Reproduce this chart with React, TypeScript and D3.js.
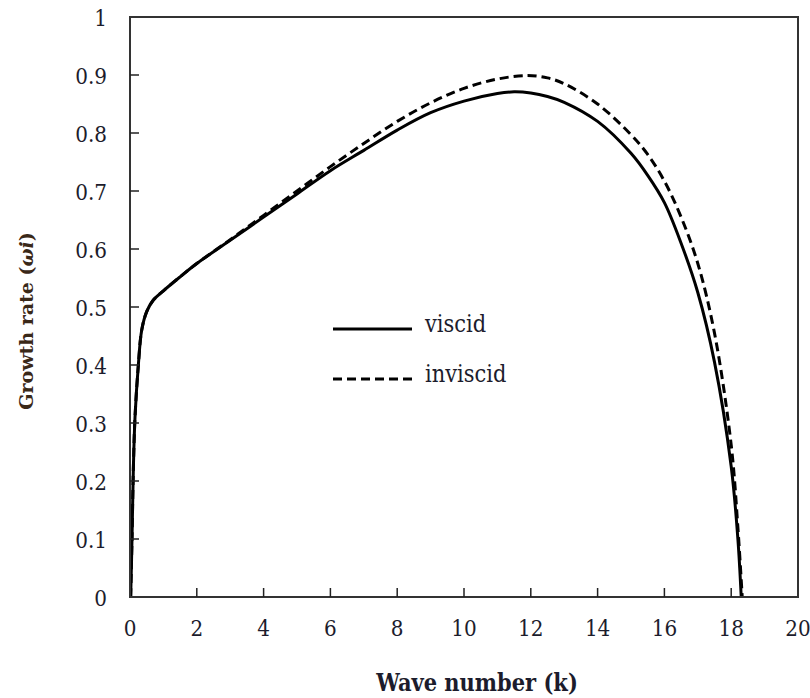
import React from 'react';
import * as d3 from 'd3';

// wave number (k) and growth rate values
const viscidK = [0.02, 0.06, 0.1, 0.15, 0.25, 0.35, 0.5, 0.7, 1, 1.5, 2, 3, 4, 5, 6, 7, 8, 9, 10, 11, 11.5, 12, 12.5, 13, 14, 15, 15.5, 16, 16.5, 17, 17.5, 18, 18.2, 18.3];
const viscidW = [0, 0.1, 0.22, 0.31, 0.4, 0.46, 0.492, 0.512, 0.528, 0.552, 0.575, 0.615, 0.655, 0.695, 0.735, 0.77, 0.805, 0.835, 0.855, 0.868, 0.871, 0.869, 0.863, 0.853, 0.82, 0.765, 0.727, 0.68, 0.61, 0.525, 0.405, 0.225, 0.1, 0];

const inviscidK = [0.02, 0.06, 0.1, 0.15, 0.25, 0.35, 0.5, 0.7, 1, 1.5, 2, 3, 4, 5, 6, 7, 8, 9, 10, 11, 11.9, 12.5, 13, 14, 15, 15.5, 16, 16.5, 17, 17.5, 18, 18.2, 18.33];
const inviscidW = [0, 0.1, 0.22, 0.31, 0.4, 0.46, 0.492, 0.512, 0.528, 0.552, 0.575, 0.616, 0.658, 0.7, 0.742, 0.782, 0.82, 0.852, 0.877, 0.893, 0.899, 0.895, 0.885, 0.85, 0.797, 0.763, 0.717, 0.655, 0.575, 0.455, 0.262, 0.12, 0];

const xTicks = [0, 2, 4, 6, 8, 10, 12, 14, 16, 18, 20];
const yTicks = [0, 0.1, 0.2, 0.3, 0.4, 0.5, 0.6, 0.7, 0.8, 0.9, 1];

const series = [
  { name: 'viscid', k: viscidK, w: viscidW, dash: null },
  { name: 'inviscid', k: inviscidK, w: inviscidW, dash: '9,5' },
];

const W = 810, H = 698;
const left = 130, right = 798, top = 17, bottom = 597;
const font = '"DejaVu Serif", serif';
const textColor = '#1c1c2c';
const stretch = 1.15; // glyphs in the picture are taller than wide

export default function App() {
  const x = d3.scaleLinear().domain([0, 20]).range([left, right]);
  const y = d3.scaleLinear().domain([0, 1]).range([bottom, top]);
  const line = d3.line<[number, number]>()
    .x(d => x(d[0]))
    .y(d => y(d[1]))
    .curve(d3.curveCatmullRom.alpha(0.5));

  return (
    <svg width={W} height={H} style={{ position: 'absolute', left: 0, top: 0 }}>
      <rect x={0} y={0} width={W} height={H} fill="#fff" />
      {series.map(s => (
        <path key={s.name}
          d={line(s.k.map((k, i) => [k, s.w[i]] as [number, number])) || ''}
          fill="none" stroke="#000" strokeWidth={3}
          strokeDasharray={s.dash || undefined} />
      ))}
      <rect x={left} y={top} width={right - left} height={bottom - top}
        fill="none" stroke="#333" strokeWidth={2} />
      {xTicks.slice(1, -1).map(t => (
        <line key={'xt' + t} x1={x(t)} x2={x(t)} y1={bottom} y2={bottom - 9} stroke="#222" strokeWidth={1.5} />
      ))}
      {yTicks.slice(1, -1).map(t => (
        <line key={'yt' + t} x1={left} x2={left + 9} y1={y(t)} y2={y(t)} stroke="#222" strokeWidth={1.5} />
      ))}
      {xTicks.map(t => (
        <text key={'xl' + t} transform={`translate(${x(t)},${bottom + 39}) scale(1,${stretch})`}
          textAnchor="middle" fontFamily={font} fontSize={20} fill={textColor}>{t}</text>
      ))}
      {yTicks.map(t => (
        <text key={'yl' + t} transform={`translate(107,${y(t) + 8.5}) scale(1,${stretch})`}
          textAnchor="end" fontFamily={font} fontSize={20} fill={textColor}>{d3.format('~g')(t)}</text>
      ))}
      <text transform={`translate(477,691) scale(1,${stretch})`} textAnchor="middle" fontFamily={font}
        fontSize={21} fontWeight="bold" fill={textColor}>Wave number (k)</text>
      <text transform={`translate(33,321) rotate(-90)`} textAnchor="middle" fontFamily={font}
        fontSize={19} fontWeight="bold" fill="#3a2818">
        Growth rate (<tspan fontStyle="italic">ωi</tspan>)
      </text>
      {series.map((s, i) => (
        <g key={'lg' + s.name}>
          <line x1={333} x2={412} y1={329 + i * 50} y2={329 + i * 50} stroke="#000" strokeWidth={3}
            strokeDasharray={s.dash || undefined} />
          <text transform={`translate(425,${332 + i * 50}) scale(1,${stretch})`}
            fontFamily={font} fontSize={21} fill={textColor}>{s.name}</text>
        </g>
      ))}
    </svg>
  );
}
